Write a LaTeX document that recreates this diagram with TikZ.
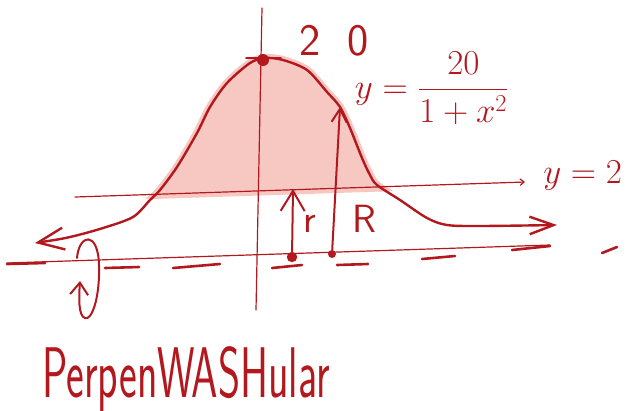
\documentclass[tikz,border=0pt]{standalone}
\usepackage{fontspec}
\definecolor{sketchred}{HTML}{B2181E}
\definecolor{shadefill}{HTML}{F7C7C2}
\usetikzlibrary{arrows.meta}

\begin{document}
\begin{tikzpicture}[
  x=0.025cm,y=-0.025cm,
  line join=round,
  line cap=round,
  curve/.style={draw=sketchred,line width=0.6mm},
  thinline/.style={draw=sketchred,line width=0.3mm},
  dashmark/.style={draw=sketchred,line width=0.65mm},
  shaded/.style={fill=shadefill,draw=shadefill,line width=2mm},
  pointdot/.style={fill=sketchred,circle,inner sep=0pt,minimum size=#1},
  sketchlabel/.style={text=sketchred,inner sep=0pt}
]
  \useasboundingbox (0,0) rectangle (642,410);

  % region between the curve and y=2
  \begin{scope}
    \clip (0,0) -- (642,0) -- (642,183) -- (0,204) -- cycle;
    \filldraw[shaded] plot[smooth] coordinates {(133,217) (150,200) (160,190) (177,167)
      (197,133) (210,107) (227,83) (250,63) (265,58) (283,60) (307,70) (327,92)
      (340,107) (350,128) (362,158) (370,175) (377,185) (400,200)} -- cycle;
  \end{scope}

  \coordinate (ytop) at (262,8);
  \coordinate (ybot) at (256,310);
  \coordinate (lineL) at (75,197);
  \coordinate (lineR) at (525,182);
  \coordinate (axisL) at (7,263);
  \coordinate (axisR) at (550,245);
  \coordinate (rtip) at (293,189);
  \coordinate (Rtip) at (340,107);

  \draw[thinline] (ytop) -- (ybot);
  \draw[thinline] (axisL) -- (axisR);
  \draw[thinline,-{Straight Barb[length=1mm,width=1.6mm]}] (lineL) -- (lineR);

  \foreach \xa/\ya/\xb/\yb in {7/264/45/263, 105/268/139/267, 173/268/220/264,
    272/268/302/265, 337/265/368/264, 422/259/455/256, 512/250/550/246, 602/253/617/247} {
    \draw[dashmark] (\xa,\ya) -- (\xb,\yb);
  }

  % the bell curve
  \draw[curve,{Straight Barb[length=6.5mm,width=5.5mm]}-{Straight Barb[length=6mm,width=4.4mm]}]
    plot[smooth] coordinates {(35,243) (70,237) (103,228) (133,217) (150,200) (160,190)
      (177,167) (197,133) (210,107) (227,83) (250,63) (265,58) (283,60) (307,70) (327,92)
      (340,107) (350,128) (362,158) (370,175) (377,185) (400,200) (427,218) (447,225)
      (480,226) (557,225)};

  % rotation about the axis
  \draw[curve,line width=0.5mm,-{Straight Barb[length=3mm,width=4.5mm]}]
    (77,258) .. controls (79,234) and (98,230) .. (99,265)
    .. controls (100,300) and (91,321) .. (85,318)
    .. controls (78,316) and (79,296) .. (80,281);

  \node[pointdot=3mm] (topdot) at (263,60) {};
  \draw[curve,line width=0.45mm] (246,58) -- (281,58);
  \node[pointdot=2.6mm] (rdot) at (292,257) {};
  \node[pointdot=2mm] (Rdot) at (332,254) {};

  \draw[curve,line width=0.5mm,-{Straight Barb[length=5mm,width=6mm]}] (rdot) -- (rtip);
  \draw[curve,line width=0.5mm,-{Straight Barb[length=3.3mm,width=3.8mm]}] (Rdot) -- (Rtip);

  \node[sketchlabel,font=\sffamily\fontsize{32}{32}\selectfont] (lbltop) at (334,41) {2\hspace{0.6em}0};
  \node[sketchlabel,font=\fontsize{24}{24}\selectfont] (lblcurve) at (432,88)
    {$y=\displaystyle\frac{20}{1+x^2}$};
  \node[sketchlabel,anchor=base west,font=\fontsize{28}{28}\selectfont] (lblline) at (543,183) {$y=2$};
  \node[sketchlabel,anchor=base west,font=\sffamily\fontsize{28}{28}\selectfont] (lblr) at (303,232) {r};
  \node[sketchlabel,anchor=base west,font=\sffamily\fontsize{28}{28}\selectfont] (lblR) at (352,232) {R};
  \node[sketchlabel,anchor=base west] (lbltitle) at (42,397)
    {\scalebox{0.59}[1]{\sffamily\fontsize{51}{51}\selectfont PerpenWASHular}};
\end{tikzpicture}
\end{document}
